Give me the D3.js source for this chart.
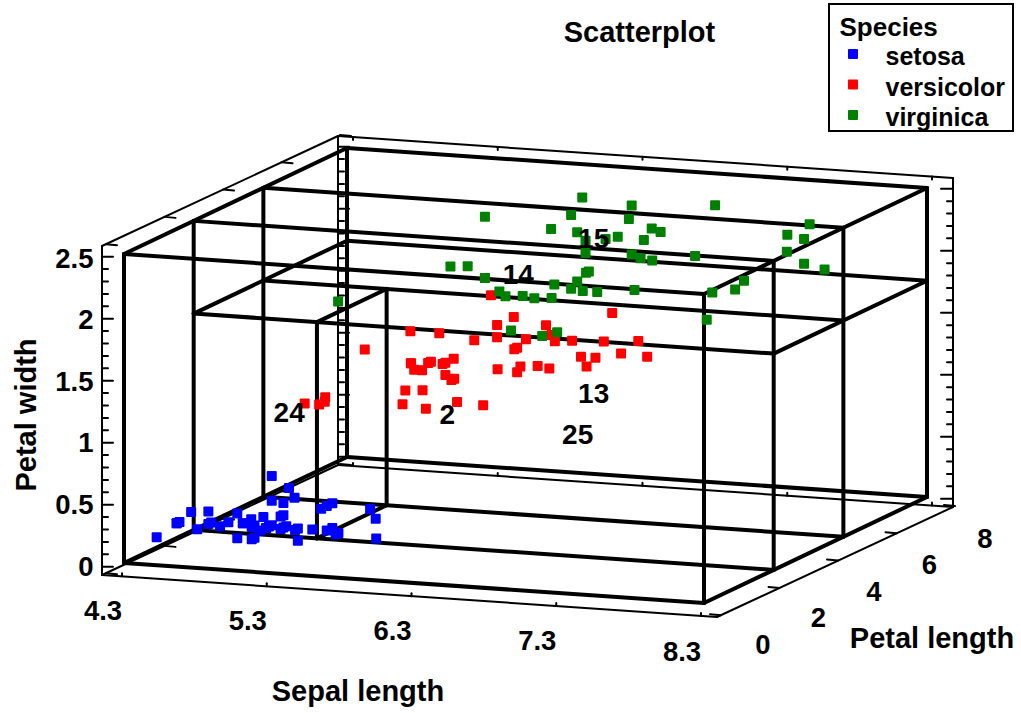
<!DOCTYPE html>
<html><head><meta charset="utf-8">
<script src="https://cdn.jsdelivr.net/npm/d3@7/dist/d3.min.js"></script>
<style>html,body{margin:0;padding:0;background:#fff}svg{display:block}text{font-family:"Liberation Sans",Arial,sans-serif;font-weight:bold;fill:#000}</style>
</head><body><div id="c"></div>
<script>
// Sepal length, petal length, petal width
const setosaSepal=[5.1,4.9,4.7,4.6,5.0,5.4,4.6,5.0,4.4,4.9,5.4,4.8,4.8,4.3,5.8,5.7,5.4,5.1,5.7,5.1,5.4,5.1,4.6,5.1,4.8,5.0,5.0,5.2,5.2,4.7,4.8,5.4,5.2,5.5,4.9,5.0,5.5,4.9,4.4,5.1,5.0,4.5,4.4,5.0,5.1,4.8,5.1,4.6,5.3,5.0];
const setosaPetalL=[1.4,1.4,1.3,1.5,1.4,1.7,1.4,1.5,1.4,1.5,1.5,1.6,1.4,1.1,1.2,1.5,1.3,1.4,1.7,1.5,1.7,1.5,1.0,1.7,1.9,1.6,1.6,1.5,1.4,1.6,1.6,1.5,1.5,1.4,1.5,1.2,1.3,1.4,1.3,1.5,1.3,1.3,1.3,1.6,1.9,1.4,1.6,1.4,1.5,1.4];
const setosaPetalW=[0.2,0.2,0.2,0.2,0.2,0.4,0.3,0.2,0.2,0.1,0.2,0.2,0.1,0.1,0.2,0.4,0.4,0.3,0.3,0.3,0.2,0.4,0.2,0.5,0.2,0.2,0.4,0.2,0.2,0.2,0.2,0.4,0.1,0.2,0.2,0.2,0.2,0.1,0.2,0.2,0.3,0.3,0.2,0.6,0.4,0.3,0.2,0.2,0.2,0.2];
const versicolorSepal=[7.0,6.4,6.9,5.5,6.5,5.7,6.3,4.9,6.6,5.2,5.0,5.9,6.0,6.1,5.6,6.7,5.6,5.8,6.2,5.6,5.9,6.1,6.3,6.1,6.4,6.6,6.8,6.7,6.0,5.7,5.5,5.5,5.8,6.0,5.4,6.0,6.7,6.3,5.6,5.5,5.5,6.1,5.8,5.0,5.6,5.7,5.7,6.2,5.1,5.7];
const versicolorPetalL=[4.7,4.5,4.9,4.0,4.6,4.5,4.7,3.3,4.6,3.9,3.5,4.2,4.0,4.7,3.6,4.4,4.5,4.1,4.5,3.9,4.8,4.0,4.9,4.7,4.3,4.4,4.8,5.0,4.5,3.5,3.8,3.7,3.9,5.1,4.5,4.5,4.7,4.4,4.1,4.0,4.4,4.6,4.0,3.3,4.2,4.2,4.2,4.3,3.0,4.1];
const versicolorPetalW=[1.4,1.5,1.5,1.3,1.5,1.3,1.6,1.0,1.3,1.4,1.0,1.5,1.0,1.4,1.3,1.4,1.5,1.0,1.5,1.1,1.8,1.3,1.5,1.2,1.3,1.4,1.4,1.7,1.5,1.0,1.1,1.0,1.2,1.6,1.5,1.6,1.5,1.3,1.3,1.3,1.2,1.4,1.2,1.0,1.3,1.2,1.3,1.3,1.1,1.3];
const virginicaSepal=[6.3,5.8,7.1,6.3,6.5,7.6,4.9,7.3,6.7,7.2,6.5,6.4,6.8,5.7,5.8,6.4,6.5,7.7,7.7,6.0,6.9,5.6,7.7,6.3,6.7,7.2,6.2,6.1,6.4,7.2,7.4,7.9,6.4,6.3,6.1,7.7,6.3,6.4,6.0,6.9,6.7,6.9,5.8,6.8,6.7,6.7,6.3,6.5,6.2,5.9];
const virginicaPetalL=[6.0,5.1,5.9,5.6,5.8,6.6,4.5,6.3,5.8,6.1,5.1,5.3,5.5,5.0,5.1,5.3,5.5,6.7,6.9,5.0,5.7,4.9,6.7,4.9,5.7,6.0,4.8,4.9,5.6,5.8,6.1,6.4,5.6,5.1,5.6,6.1,5.6,5.5,4.8,5.4,5.6,5.1,5.1,5.9,5.7,5.2,5.0,5.2,5.4,5.1];
const virginicaPetalW=[2.5,1.9,2.1,1.8,2.2,2.1,1.7,1.8,1.8,2.5,2.0,1.9,2.1,2.0,2.4,2.3,1.8,2.2,2.3,1.5,2.3,2.0,2.0,1.8,2.1,1.8,1.8,1.8,2.1,1.6,1.9,2.0,2.2,1.5,1.4,2.3,2.4,1.8,1.8,2.1,2.4,2.3,1.9,2.3,2.5,2.3,1.9,2.0,2.3,1.8];
const speciesNames=["setosa","versicolor","virginica"];
const speciesColors=["#0000ff","#ff0000","#008000"];
const sepalTicks=[4.3,5.3,6.3,7.3,8.3];
const petalLTicks=[0,2,4,6,8];
const petalWTicks=[0,0.5,1,1.5,2,2.5];
const petalWTickLabels=["0","0.5","1","1.5","2","2.5"];
const gridPetalL=[0,2.5,5,8];
const planeWidth=1.75;
const planeSepal=5.15;
const rowLabels=["24","2","14","15","13","25"];
const rowSepal=[4.67,5.76,6.25,6.77,6.77,6.66];
const rowPetalL=[4,4,4,4,4,4];
const rowPetalW=[0.82,0.89,2.06,2.40,1.14,0.80];

const W=1021,H=713;
const svg=d3.select("#c").append("svg").attr("width",W).attr("height",H);

// inner oblique projection built from three scales
const xH=d3.scaleLinear([4.3,8.3],[0,580]), xV=d3.scaleLinear([4.3,8.3],[0,40]);
const yH=d3.scaleLinear([0,8],[0,223]), yV=d3.scaleLinear([0,8],[0,-106]);
const zV=d3.scaleLinear([0,2.5],[0,-309]);
const ox0=124, oy0=563;
const proj=(x,y,z)=>[ox0+xH(x)+yH(y), oy0+xV(x)+yV(y)+zV(z)];
// markers sit on a very slightly tighter lattice than the grid
const mxH=d3.scaleLinear([4.3,8.3],[0,578]), mzV=d3.scaleLinear([0,2.5],[0,-307]);
const mproj=(x,y,z)=>[ox0+mxH(x)+yH(y), oy0+xV(x)+yV(y)+mzV(z)];

const x0=4.3,x1=8.3,y0=0,y1=8,z0=0,z1=2.5;
const seg=[];
const add=(a,b)=>seg.push([proj(...a),proj(...b)]);
gridPetalL.forEach(y=>{
  add([x0,y,z0],[x0,y,z1]); add([x1,y,z0],[x1,y,z1]);
  add([x0,y,z1],[x1,y,z1]); add([x0,y,z0],[x1,y,z0]);
});
[x0,x1].forEach(x=>{ add([x,y0,z1],[x,y1,z1]); add([x,y0,z0],[x,y1,z0]); });
gridPetalL.slice(1).forEach(y=>add([x0,y,planeWidth],[x1,y,planeWidth]));
[x0,x1].forEach(x=>add([x,gridPetalL[1],planeWidth],[x,y1,planeWidth]));
[gridPetalL[1],gridPetalL[2]].forEach(y=>add([planeSepal,y,z0],[planeSepal,y,planeWidth]));
[z0,planeWidth].forEach(z=>add([planeSepal,gridPetalL[1],z],[planeSepal,gridPetalL[2],z]));

// outer thin frame
const frX=d3.scaleLinear([4.3,8.3],[20,599]);
const frXBack=d3.scaleLinear([4.3,8.3],[15,594]);
const frY=d3.scaleLinear([0,8],[4,238]);
const frZ=d3.scaleLinear([0,2.5],[8.3,318.3]);
const P=(dx,dy,dz)=>[102+dx+dy,575+dx*0.0683-dy*0.466-dz];
const fw=615,fd=236,fh=329;
const thin=[];
const addT=(a,b)=>thin.push([P(...a),P(...b)]);
addT([0,0,0],[fw,0,0]);addT([fw,0,0],[fw,fd,0]);addT([fw,fd,0],[0,fd,0]);addT([0,fd,0],[0,0,0]);
addT([0,0,0],[0,0,fh]);addT([0,0,fh],[0,fd,fh]);addT([0,fd,fh],[fw,fd,fh]);addT([fw,fd,fh],[fw,fd,0]);addT([0,fd,0],[0,fd,fh]);
const ticks=[];
const tick=(p,dx,dy)=>ticks.push([p,[p[0]+dx,p[1]+dy]]);
d3.range(0,26).forEach(i=>{
  const v=i/10, major=i%5===0, z=frZ(v);
  tick(P(0,0,z),major?11:6,0);
  tick(P(0,fd,z),major?11:6,0);
  tick(P(fw,fd,z),major?-12:-6,0);
});
petalLTicks.forEach(v=>{
  tick(P(0,frY(v),0),11,1);
  tick(P(0,frY(v),fh),11,1);
  tick(P(fw,frY(v),0),-11,-1);
});
sepalTicks.forEach(v=>{
  tick(P(frX(v),0,0),0,-3);
  tick(P(frXBack(v),fd,fh),0,3);
  tick(P(frXBack(v),fd,0),0,-3);
});

const drawLines=(arr,w)=>svg.append("g").selectAll("line").data(arr).join("line")
  .attr("x1",d=>d[0][0]).attr("y1",d=>d[0][1]).attr("x2",d=>d[1][0]).attr("y2",d=>d[1][1])
  .attr("stroke","#000").attr("stroke-width",w).attr("stroke-linecap","round");
drawLines(thin,2);
drawLines(ticks,2);
drawLines(seg,4);

// markers
const allSeries=[[setosaSepal,setosaPetalL,setosaPetalW],[versicolorSepal,versicolorPetalL,versicolorPetalW],[virginicaSepal,virginicaPetalL,virginicaPetalW]];
allSeries.forEach((s,k)=>{
  svg.append("g").selectAll("rect").data(s[0].map((d,i)=>mproj(d,s[1][i],s[2][i]))).join("rect")
    .attr("x",d=>d[0]-3).attr("y",d=>d[1]-4).attr("width",10).attr("height",10).attr("rx",1)
    .attr("fill",speciesColors[k]);
});

// row labels
svg.append("g").selectAll("text").data(rowLabels).join("text")
  .attr("x",(d,i)=>proj(rowSepal[i],rowPetalL[i],rowPetalW[i])[0])
  .attr("y",(d,i)=>proj(rowSepal[i],rowPetalL[i],rowPetalW[i])[1])
  .attr("text-anchor","middle").attr("dominant-baseline","central")
  .attr("font-size",28).text(d=>d);

// tick labels
const sepalLabX=d3.scaleLinear([4.3,8.3],[103,682]), sepalLabY=d3.scaleLinear([4.3,8.3],[610,651]);
svg.append("g").selectAll("text").data(sepalTicks).join("text")
  .attr("x",sepalLabX).attr("y",sepalLabY).attr("text-anchor","middle").attr("dominant-baseline","central")
  .attr("font-size",27.5).text(d=>d.toFixed(1));
const petalLabX=d3.scaleLinear([0,8],[763,985]), petalLabY=d3.scaleLinear([0,8],[644,538]);
svg.append("g").selectAll("text").data(petalLTicks).join("text")
  .attr("x",petalLabX).attr("y",petalLabY).attr("text-anchor","middle").attr("dominant-baseline","central")
  .attr("font-size",27.5).text(d=>d);
const widthLabY=d3.scaleLinear([0,2.5],[566,258]);
svg.append("g").selectAll("text").data(petalWTicks).join("text")
  .attr("x",93.5).attr("y",widthLabY).attr("text-anchor","end").attr("dominant-baseline","central")
  .attr("font-size",27.5).text((d,i)=>petalWTickLabels[i]);

// titles
const mid=(t,x,y,fs)=>svg.append("text").attr("x",x).attr("y",y).attr("text-anchor","middle").attr("dominant-baseline","central").attr("font-size",fs).text(t);
mid("Scatterplot",639.5,32,29);
mid("Sepal length",358,691,29);
mid("Petal length",932,638,29);
mid("Petal width",0,0,29).attr("transform","translate(26,415) rotate(-90)");

// legend
svg.append("rect").attr("x",829).attr("y",4).attr("width",184).attr("height",127).attr("fill","none").attr("stroke","#000").attr("stroke-width",2);
svg.append("text").attr("x",839.5).attr("y",27).attr("dominant-baseline","central").attr("font-size",26).text("Species");
const legY=d3.scalePoint(speciesNames,[54,115]);
svg.append("g").selectAll("rect").data(speciesNames).join("rect")
  .attr("x",848).attr("y",d=>legY(d)-5).attr("width",10).attr("height",10).attr("rx",1)
  .attr("fill",(d,i)=>speciesColors[i]);
svg.append("g").selectAll("text").data(speciesNames).join("text")
  .attr("x",885.5).attr("y",d=>legY(d)+2).attr("dominant-baseline","central").attr("font-size",25).text(d=>d);
</script></body></html>
